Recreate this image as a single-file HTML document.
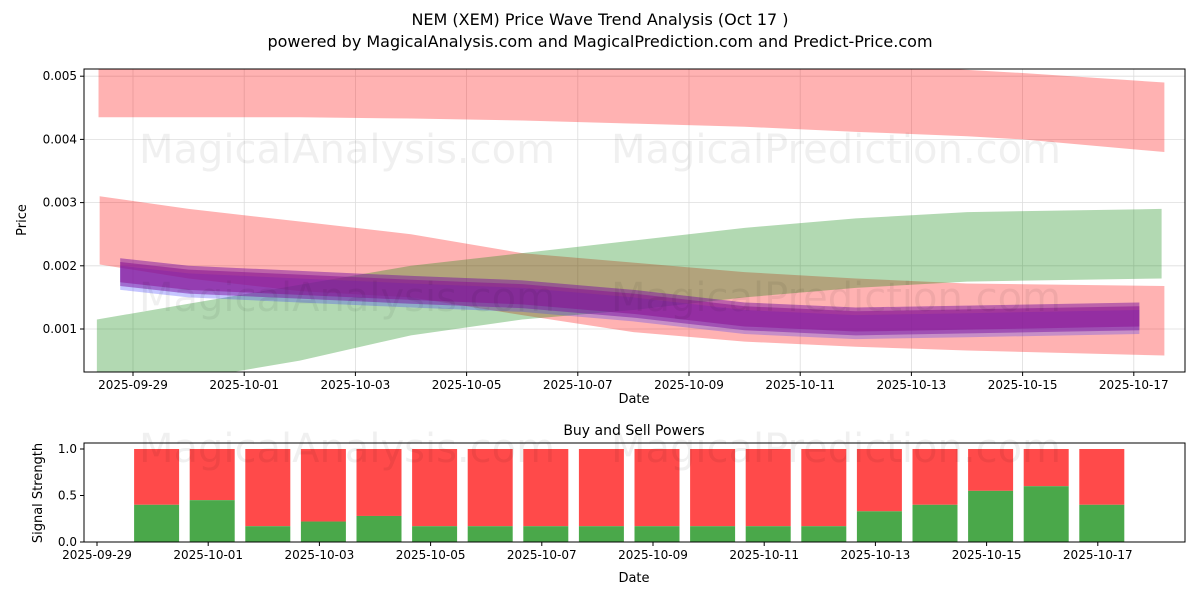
<!DOCTYPE html>
<html><head><meta charset="utf-8">
<style>
body{margin:0;background:#fff;font-family:"Liberation Sans","DejaVu Sans",sans-serif;}
svg text{font-family:"DejaVu Sans","Liberation Sans",sans-serif;}
</style></head>
<body>
<svg id="chart" width="1200" height="600" xmlns="http://www.w3.org/2000/svg">
<text x="600" y="25" font-size="16" text-anchor="middle">NEM (XEM) Price Wave Trend Analysis (Oct 17 )</text>
<text x="600" y="47" font-size="16" text-anchor="middle">powered by MagicalAnalysis.com and MagicalPrediction.com and Predict-Price.com</text>
<g id="topgrp"></g>
<g id="botgrp"></g>
</svg>
<script>
// ---- data (day offsets from 2025-09-29) ----
const xTickLabels=["2025-09-29","2025-10-01","2025-10-03","2025-10-05","2025-10-07","2025-10-09","2025-10-11","2025-10-13","2025-10-15","2025-10-17"];
const yTickValues=[0.001,0.002,0.003,0.004,0.005];
const bandDays=[-0.62,1,3,5,7,9,11,13,15,16,18.55];
const redTopUpper=[0.0052,0.0052,0.0052,0.0052,0.0052,0.0052,0.0052,0.0052,0.0051,0.00505,0.0049];
const redTopLower=[0.00435,0.00435,0.00435,0.00433,0.0043,0.00425,0.0042,0.00412,0.00405,0.004,0.0038];
const redLowDays=[-0.6,1,3,5,7,9,11,13,15,18.55];
const redLowUpper=[0.0031,0.0029,0.0027,0.0025,0.0022,0.00205,0.0019,0.0018,0.00172,0.00168];
const redLowLower=[0.00202,0.0018,0.0016,0.0015,0.00122,0.00095,0.0008,0.00072,0.00066,0.00058];
const greenDays=[-0.65,1,3,5,7,9,11,13,15,18.5];
const greenUpper=[0.00115,0.0014,0.0017,0.002,0.0022,0.0024,0.0026,0.00275,0.00285,0.0029];
const greenLower=[0.0002,0.0002,0.0005,0.0009,0.00115,0.0013,0.0015,0.00165,0.00175,0.0018];
const waveDays=[-0.23,1,3,5,7,9,11,13,15,18.1];
const waveCenter=[0.0019,0.00178,0.0017,0.00162,0.00155,0.0014,0.0012,0.00112,0.00115,0.0012];
const barLabels=["09-30","10-01","10-02","10-03","10-04","10-05","10-06","10-07","10-08","10-09","10-10","10-11","10-12","10-13","10-14","10-15","10-16","10-17"];
const buyValues=[0.4,0.45,0.17,0.22,0.28,0.17,0.17,0.17,0.17,0.17,0.17,0.17,0.17,0.33,0.4,0.55,0.6,0.4];
const botTickLabels=["2025-09-29","2025-10-01","2025-10-03","2025-10-05","2025-10-07","2025-10-09","2025-10-11","2025-10-13","2025-10-15","2025-10-17"];
const sigTicks=[0,0.5,1.0];

const NS="http://www.w3.org/2000/svg";
function mk(p,t,a){const e=document.createElementNS(NS,t);for(const k in a)e.setAttribute(k,a[k]);p.appendChild(e);return e;}
const T={l:84,r:1185,t:69,b:372};
const xs=d=>133+d*55.6;
const ys=v=>329-(v-0.001)*63200;
const topG=document.getElementById('topgrp');
const clip=mk(topG,'clipPath',{id:'cp'});mk(clip,'rect',{x:T.l,y:T.t,width:T.r-T.l,height:T.b-T.t});
xTickLabels.forEach((l,i)=>{const x=xs(i*2);
 const g=mk(topG,'line',{x1:x,x2:x,y1:T.t,y2:T.b,stroke:'#ddd','stroke-width':0.8});
 
 
 mk(topG,'line',{x1:x,x2:x,y1:T.b,y2:T.b+4,stroke:'#000'});
 const t=mk(topG,'text',{x:x,y:T.b+17,'font-size':12,'text-anchor':'middle'});t.textContent=l;
 
 });
yTickValues.forEach(v=>{const y=ys(v);
 const g=mk(topG,'line',{x1:T.l,x2:T.r,y1:y,y2:y,stroke:'#ddd','stroke-width':0.8});
 
 
 mk(topG,'line',{x1:T.l-4,x2:T.l,y1:y,y2:y,stroke:'#000'});
 const t=mk(topG,'text',{x:T.l-7,y:y+4,'font-size':12,'text-anchor':'end'});t.textContent=v.toFixed(3);
 
 });
const plot=mk(topG,'g',{'clip-path':'url(#cp)'});
function band(days,up,lo,fill,op,name){
 let pts=days.map((d,i)=>xs(d)+','+ys(up[i]));
 pts=pts.concat(days.map((d,i)=>xs(d)+','+ys(lo[i])).reverse());
 const p=mk(plot,'polygon',{points:pts.join(' '),fill:fill,'fill-opacity':op});
 
 }
band(bandDays,redTopUpper,redTopLower,'#ff0000',0.3,'red-upper-band');
band(redLowDays,redLowUpper,redLowLower,'#ff0000',0.3,'red-lower-band');
band(greenDays,greenUpper,greenLower,'#008000',0.3,'green-band');
[0.00026,0.0002,0.00014].forEach((w,k)=>{
 band(waveDays,waveCenter.map(c=>c+w-0.00004),waveCenter.map(c=>c-w-0.00002),'#3333ff',0.28,'blue-wave-band');});
[0.00022,0.00016].forEach(w=>{
 band(waveDays,waveCenter.map(c=>c+w),waveCenter.map(c=>c-w),'#aa0066',0.3,'purple-wave-band');});
[[347,163,'MagicalAnalysis.com'],[836,163,'MagicalPrediction.com'],[347,311,'MagicalAnalysis.com'],[836,311,'MagicalPrediction.com']].forEach(w=>{
 const t=mk(topG,'text',{x:w[0],y:w[1],'font-size':40,fill:'#000','fill-opacity':0.06,'text-anchor':'middle'});t.textContent=w[2];
 
 });
mk(topG,'rect',{x:T.l,y:T.t,width:T.r-T.l,height:T.b-T.t,fill:'none',stroke:'#000','stroke-width':1});
const xt=mk(topG,'text',{x:634,y:403,'font-size':13,'text-anchor':'middle'});xt.textContent='Date';


const yt=mk(topG,'text',{x:26,y:220,'font-size':13,'text-anchor':'middle',transform:'rotate(-90 26 220)'});yt.textContent='Price';



const B={l:84,r:1185,t:443,b:542};
const bx=d=>97+d*55.6;
const by=v=>542-v*93;
const botG=document.getElementById('botgrp');
const bt=mk(botG,'text',{x:634,y:435,'font-size':14,'text-anchor':'middle'});bt.textContent='Buy and Sell Powers';


buyValues.forEach((v,i)=>{const x=bx(i+1)-22.5+4;
 const s=mk(botG,'rect',{x:x,y:by(1),width:45,height:by(v)-by(1),fill:'#ff4a4a'});
 
 
 const b=mk(botG,'rect',{x:x,y:by(v),width:45,height:by(0)-by(v),fill:'#4aa84a'});
 
 });
[[347,462,'MagicalAnalysis.com'],[836,462,'MagicalPrediction.com']].forEach(w=>{
 const t=mk(botG,'text',{x:w[0],y:w[1],'font-size':40,fill:'#000','fill-opacity':0.06,'text-anchor':'middle'});t.textContent=w[2];
 
 });
botTickLabels.forEach((l,i)=>{const x=bx(i*2);
 mk(botG,'line',{x1:x,x2:x,y1:B.b,y2:B.b+4,stroke:'#000'});
 const t=mk(botG,'text',{x:x,y:B.b+17,'font-size':12,'text-anchor':'middle'});t.textContent=l;
 
 });
sigTicks.forEach(v=>{const y=by(v);
 mk(botG,'line',{x1:B.l-4,x2:B.l,y1:y,y2:y,stroke:'#000'});
 const t=mk(botG,'text',{x:B.l-7,y:y+4,'font-size':12,'text-anchor':'end'});t.textContent=v.toFixed(1);
 
 });
mk(botG,'rect',{x:B.l,y:B.t,width:B.r-B.l,height:B.b-B.t,fill:'none',stroke:'#000','stroke-width':1});
const bxt=mk(botG,'text',{x:634,y:582,'font-size':13,'text-anchor':'middle'});bxt.textContent='Date';


const byt=mk(botG,'text',{x:42,y:493,'font-size':13,'text-anchor':'middle',transform:'rotate(-90 42 493)'});byt.textContent='Signal Strength';


</script>
</body></html>
